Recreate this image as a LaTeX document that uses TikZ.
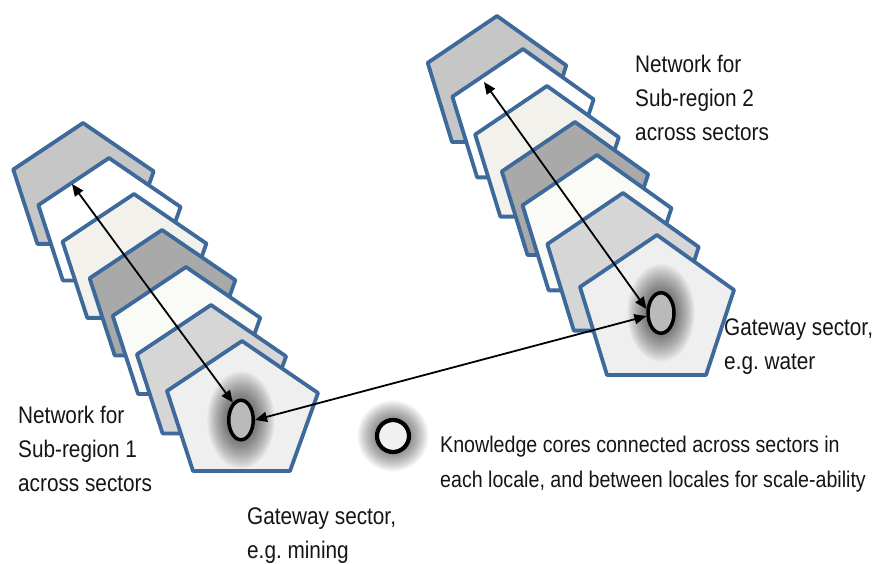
\documentclass[tikz,border=0pt]{standalone}
\usepackage{fontspec}
\setmainfont{Liberation Sans}[FakeStretch=0.865]
\usetikzlibrary{arrows.meta,shapes.geometric}
\definecolor{outl}{HTML}{3D6A9A}
\definecolor{pA}{HTML}{C6C6C6}
\definecolor{pB}{HTML}{FFFFFF}
\definecolor{pC}{HTML}{F3F1EB}
\definecolor{pD}{HTML}{A9A9A9}
\definecolor{pE}{HTML}{FAFAF7}
\definecolor{pF}{HTML}{D6D6D6}
\definecolor{pG}{HTML}{EFEFEF}
\definecolor{txt}{HTML}{151515}
\newcommand\blocktext[1]{\begin{tabular}[t]{@{}l@{}}#1\end{tabular}}
\begin{document}
\begin{tikzpicture}[x=1pt,y=-1pt,
  pent/.style={draw=outl,line width=3.8pt,line join=round},
  core/.style={ellipse,draw=black,line width=3.5pt,fill=black!27,inner sep=0pt},
  glowlayer/.style={fill=black,opacity=0.034},
  arr/.style={{Triangle[length=12pt,width=10pt]}-{Triangle[length=12pt,width=10pt]},line width=1.8pt,black},
  lbl/.style={inner sep=0pt,anchor=base west,text=txt,font=\fontsize{24}{34}\selectfont},
  leg/.style={inner sep=0pt,anchor=base west,text=txt,font=\fontsize{22.7}{35}\selectfont}]
\fill[white] (0,0) rectangle (883,564);
\useasboundingbox (0,0) rectangle (883,564);
% left stack
\foreach \px/\py/\s/\col in {83/123/0.93/pA,109/158/0.942/pB,134/194/0.953/pC,162/230/0.965/pD,186/267/0.977/pE,211/305/0.988/pF,242/341/1/pG}{
  \filldraw[pent,fill=\col,shift={(\px,\py)},scale=\s] (0,0) -- (76,52) -- (48,130) -- (-49,130) -- (-75,50) -- cycle;
}
% right stack
\foreach \px/\py/\s/\col in {497/16/0.90/pA,523/49/0.917/pB,547/86/0.933/pC,575/122/0.95/pD,597/155/0.967/pE,623/193/0.983/pF,657/235/1/pG}{
  \filldraw[pent,fill=\col,shift={(\px,\py)},scale=\s] (0,0) -- (77,55) -- (49,140) -- (-50,140) -- (-77,52) -- cycle;
}
% glows
\coordinate (k1) at (241,420);
\coordinate (k2) at (661,313);
\coordinate (k3) at (393,436);
\foreach \i in {1,...,18}{
  \fill[glowlayer] (k1) ellipse [x radius={13pt+1.15pt*\i},y radius={19pt+1.65pt*\i}];
  \fill[glowlayer] (k2) ellipse [x radius={13pt+1.15pt*\i},y radius={19pt+1.65pt*\i}];
  \fill[glowlayer,opacity=0.03] (k3) ellipse [x radius={15pt+1.15pt*\i},y radius={15pt+1.15pt*\i}];
}
% knowledge cores
\node[core,minimum width=24.5pt,minimum height=39.5pt] (c1) at (k1) {};
\node[core,minimum width=26pt,minimum height=40.5pt] (c2) at (k2) {};
\node[core,fill=black!6,line width=4.2pt,minimum width=32pt,minimum height=32pt] (c3) at (k3) {};
% connectors
\coordinate (e1) at (72,184);
\coordinate (e2) at (484,82);
\draw[arr] (e1) -- (c1.115);
\draw[arr] (e2) -- (c2.165);
\draw[arr] (c1.east) -- (c2.192);
% texts
\node[lbl] (t1) at (635,73) {\blocktext{Network for\\Sub-region 2\\across sectors}};
\node[lbl] (t2) at (724,335) {\blocktext{Gateway sector,\\e.g.\ water}};
\node[lbl] (t3) at (18,423) {\blocktext{Network for\\Sub-region 1\\across sectors}};
\node[leg] (t4) at (440,452) {\blocktext{Knowledge cores connected across sectors in\\each locale, and between locales for scale-ability}};
\node[lbl] (t5) at (247,524) {\blocktext{Gateway sector,\\e.g.\ mining}};
\end{tikzpicture}
\end{document}
